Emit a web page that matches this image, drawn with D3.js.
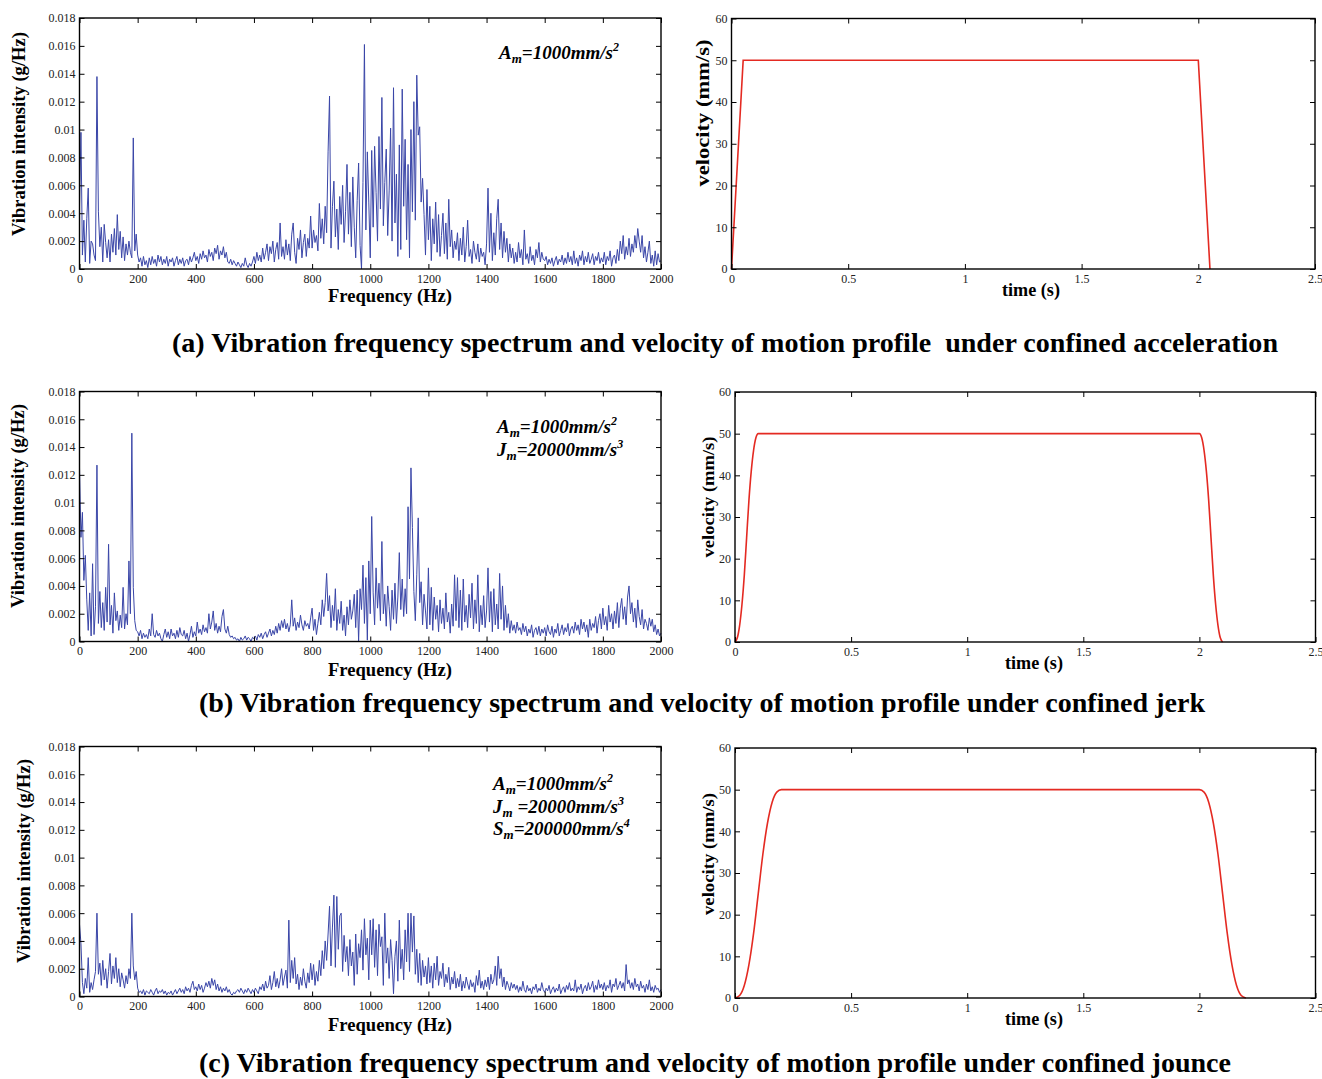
<!doctype html>
<html>
<head>
<meta charset="utf-8">
<title>Vibration spectrum and velocity of motion profiles</title>
<script src="https://d3js.org/d3.v7.min.js"></script>
<style>
  body { margin: 0; background: #fff; }
  svg { display: block; font-family: "Liberation Serif", "Times New Roman", Times, serif; }
  .tick text { font-family: "Liberation Serif", "Times New Roman", Times, serif; font-size: 12px; fill: #222; }
  .tick line { stroke: #000; }
  .frame { fill: none; stroke: #000; stroke-width: 1.4; }
  .axis-title { font-weight: bold; font-size: 18px; }
  .caption { font-weight: bold; font-size: 28px; white-space: pre; }
  .note { font-weight: bold; font-style: italic; font-size: 19px; }
</style>
</head>
<body>
<svg id="fig" width="1322" height="1079"></svg>
<script>
// spectra: one value every 5 Hz from 0 to 2000 Hz, in units of 0.001 g/Hz
var freqStep = 5;

var spectrumA = [
  4.5, 9.8, 1.0, 3.5, 0.5, 3.6, 5.8, 0.4, 2.0, 1.8, 1.0, 0.6, 13.8, 4.1, 1.6, 3.0, 0.5, 3.2, 1.9, 0.8,
  2.1, 0.5, 2.5, 1.2, 2.9, 1.0, 3.9, 1.4, 2.7, 0.8, 2.3, 0.6, 1.8, 1.0, 2.0, 1.2, 0.8, 9.4, 1.3, 2.5,
  1.0, 0.5, 0.8, 0.2, 0.9, 0.3, 0.6, 0.1, 0.8, 0.3, 0.9, 0.4, 0.7, 0.2, 1.0, 0.5, 0.9, 0.3, 0.7, 0.4,
  0.9, 0.2, 0.7, 0.5, 0.8, 0.2, 0.6, 0.9, 0.3, 0.7, 0.4, 0.8, 0.2, 0.6, 0.7, 0.3, 0.9, 0.5, 0.8, 1.2,
  0.6, 0.9, 0.4, 1.1, 0.7, 1.3, 0.8, 1.0, 0.5, 1.4, 0.9, 1.2, 0.6, 1.5, 1.1, 1.7, 0.7, 1.3, 1.0, 1.6,
  0.8, 1.2, 0.5, 0.4, 0.7, 0.3, 0.6, 0.4, 0.2, 0.5, 0.3, 0.1, 0.4, 0.2, 0.8, 0.3, 0.1, 0.4, 0.2, 0.5,
  0.9, 0.4, 1.2, 0.6, 1.0, 0.5, 1.5, 0.7, 1.2, 1.8, 0.6, 1.6, 1.1, 2.0, 0.5, 1.4, 1.9, 0.7, 3.3, 0.9,
  1.6, 0.7, 2.1, 1.0, 1.8, 0.6, 2.5, 3.3, 1.2, 0.4, 2.2, 1.4, 2.8, 0.8, 1.9, 2.5, 0.9, 2.2, 1.5, 3.8,
  1.5, 2.8, 1.9, 2.4, 1.3, 4.7, 2.2, 3.6, 1.8, 4.5, 2.6, 8.4, 12.4, 1.5, 4.5, 6.3, 2.3, 4.3, 1.4, 5.2,
  3.2, 6.0, 1.9, 4.1, 7.5, 2.5, 5.5, 1.6, 6.6, 3.0, 0.8, 4.9, 7.6, 1.7, 0.0, 6.2, 16.1, 2.8, 8.4, 4.8,
  0.8, 8.5, 3.0, 8.8, 5.5, 2.0, 9.5, 4.3, 12.3, 3.1, 6.2, 8.6, 2.4, 5.6, 10.1, 2.0, 13.0, 3.3, 6.8, 0.9,
  8.9, 1.4, 12.9, 4.5, 9.3, 2.1, 7.5, 0.8, 10.0, 4.1, 12.0, 3.5, 13.9, 9.6, 10.2, 4.8, 6.5, 3.9, 1.0, 5.7,
  2.1, 4.5, 0.6, 3.6, 1.8, 4.8, 1.2, 3.9, 0.9, 2.4, 4.0, 1.1, 3.3, 0.7, 5.0, 1.6, 2.8, 0.8, 2.0, 1.4,
  2.6, 0.6, 2.2, 1.0, 3.0, 0.5, 1.6, 3.5, 0.9, 1.4, 0.4, 2.0, 1.2, 0.7, 1.8, 0.5, 1.5, 0.9, 1.2, 0.3,
  1.8, 5.8, 1.2, 4.0, 0.6, 2.6, 1.0, 3.6, 5.0, 1.4, 3.3, 0.8, 2.7, 1.2, 2.2, 0.5, 1.8, 0.8, 1.5, 0.4,
  1.2, 0.5, 1.9, 0.8, 1.4, 0.3, 2.8, 0.7, 1.1, 0.4, 1.6, 0.6, 1.0, 0.3, 1.4, 0.8, 1.9, 0.5, 1.2, 0.7,
  0.6, 0.9, 0.3, 0.7, 0.4, 0.8, 0.2, 0.6, 0.9, 0.3, 0.7, 0.5, 1.0, 0.3, 0.8, 0.4, 1.2, 0.5, 0.9, 0.3,
  1.3, 0.4, 0.8, 0.2, 1.0, 0.6, 1.3, 0.3, 0.9, 0.5, 1.2, 0.4, 0.7, 1.1, 0.3, 0.9, 0.6, 1.2, 0.4, 0.8,
  0.5, 1.2, 0.3, 0.9, 0.6, 1.3, 0.2, 0.8, 1.0, 0.4, 1.4, 0.6, 2.0, 1.1, 2.4, 0.7, 1.6, 1.0, 2.2, 0.9,
  1.8, 1.2, 2.4, 1.5, 2.9, 2.0, 1.2, 2.4, 0.8, 1.6, 0.5, 1.2, 2.0, 0.4, 1.0, 0.2, 1.3, 0.3, 1.1, 0.5,
  0.6
];

var spectrumB = [
  12.5, 7.5, 9.3, 4.4, 6.2, 3.0, 0.8, 3.5, 0.4, 5.6, 0.5, 2.5, 12.7, 1.3, 3.6, 1.0, 2.8, 0.8, 3.9, 1.4,
  7.0, 1.2, 2.6, 0.6, 3.5, 1.5, 2.2, 0.8, 1.9, 1.0, 3.9, 0.9, 2.0, 1.2, 5.8, 2.0, 15.0, 3.9, 1.5, 0.8,
  0.7, 0.4, 0.8, 0.2, 0.6, 0.3, 0.5, 0.2, 0.9, 0.4, 2.0, 0.5, 0.3, 0.8, 0.4, 0.6, 0.2, 0.0, 0.5, 0.9,
  0.3, 0.7, 0.2, 0.9, 0.4, 0.6, 0.2, 0.8, 0.3, 1.0, 0.5, 0.4, 0.8, 0.2, 0.6, 0.0, 0.5, 1.1, 0.3, 0.7,
  0.4, 1.4, 0.6, 0.9, 0.5, 1.2, 0.7, 1.0, 0.6, 2.0, 0.9, 1.4, 2.2, 0.8, 1.3, 0.6, 1.1, 0.7, 1.8, 2.3,
  0.9, 0.6, 1.1, 0.5, 0.3, 0.4, 0.2, 0.3, 0.1, 0.2, 0.0, 0.3, 0.1, 0.2, 0.4, 0.1, 0.3, 0.2, 0.0, 0.3,
  0.2, 0.4, 0.1, 0.5, 0.3, 0.6, 0.2, 0.5, 0.7, 0.3, 0.6, 0.9, 0.4, 0.8, 0.5, 1.1, 0.6, 1.3, 0.8, 1.5,
  1.0, 1.6, 0.9, 1.3, 0.7, 1.2, 3.0, 1.1, 1.7, 0.8, 1.4, 1.0, 1.9, 1.2, 0.8, 1.5, 1.1, 1.3, 0.9, 1.7,
  2.4, 0.8, 1.6, 0.5, 1.3, 2.1, 1.2, 3.0, 1.8, 2.8, 4.9, 2.2, 3.3, 1.0, 2.6, 1.5, 3.8, 0.8, 2.3, 1.3,
  2.9, 0.8, 1.9, 0.4, 2.5, 1.2, 3.0, 1.6, 2.2, 3.4, 1.0, 3.7, 0.0, 3.8, 2.3, 5.5, 1.3, 4.6, 0.1, 5.8,
  2.0, 9.0, 3.5, 1.2, 5.3, 2.4, 4.2, 1.5, 7.2, 2.0, 3.4, 1.1, 4.0, 2.5, 0.8, 3.7, 1.6, 4.2, 1.3, 3.2,
  6.4, 2.3, 4.5, 1.8, 3.8, 2.0, 9.7, 4.5, 12.5, 8.2, 3.6, 1.5, 4.8, 8.9, 2.8, 4.3, 1.2, 3.4, 2.2, 0.9,
  5.3, 1.2, 3.9, 0.8, 3.2, 1.6, 2.6, 0.7, 3.0, 1.3, 2.4, 0.9, 3.5, 1.4, 2.1, 0.6, 2.7, 1.1, 4.8, 1.5,
  4.6, 1.0, 3.7, 0.8, 4.5, 1.4, 2.6, 1.0, 3.4, 1.7, 4.2, 0.9, 3.0, 1.3, 4.8, 0.7, 2.6, 1.2, 3.3, 1.0,
  2.2, 5.3, 1.4, 3.6, 0.7, 3.8, 1.2, 2.7, 0.9, 4.9, 1.6, 4.0, 0.8, 2.6, 1.0, 2.0, 0.6, 1.5, 0.8, 1.2,
  0.6, 1.4, 0.8, 1.0, 0.5, 1.3, 0.7, 1.1, 0.4, 0.9, 0.6, 1.2, 0.3, 0.8, 1.0, 0.5, 1.1, 0.4, 0.9, 0.6,
  1.0, 0.4, 1.2, 0.7, 0.5, 1.1, 0.3, 0.9, 0.6, 1.3, 0.4, 0.8, 1.2, 0.5, 1.0, 0.7, 1.3, 0.4, 0.9, 1.1,
  0.6, 1.4, 0.8, 1.2, 0.5, 1.6, 0.9, 1.4, 0.7, 1.2, 0.3, 1.6, 0.8, 1.3, 1.0, 1.8, 0.6, 1.5, 2.0, 0.9,
  2.4, 1.2, 1.8, 0.8, 2.6, 1.4, 2.0, 0.9, 2.2, 1.3, 2.8, 1.0, 2.4, 3.1, 1.6, 2.5, 1.2, 3.2, 4.0, 2.0,
  2.8, 1.4, 2.4, 1.0, 3.0, 1.8, 1.2, 2.3, 0.9, 1.6, 1.3, 0.8, 1.7, 1.1, 1.6, 0.7, 1.2, 0.5, 0.9, 0.4,
  0.6
];

var spectrumC = [
  5.2, 3.8, 1.0, 0.2, 1.3, 0.6, 2.8, 0.3, 1.0, 0.5, 1.2, 1.8, 6.0, 1.6, 2.4, 0.8, 2.6, 1.2, 2.0, 0.6,
  1.8, 3.1, 0.9, 2.2, 1.3, 2.8, 1.0, 2.0, 0.7, 1.7, 1.2, 0.6, 1.5, 0.9, 2.0, 1.3, 6.0, 2.2, 1.2, 1.8,
  0.6, 0.3, 0.4, 0.2, 0.5, 0.1, 0.4, 0.3, 0.2, 0.5, 0.3, 0.1, 0.4, 0.6, 0.2, 0.4, 0.3, 0.5, 0.2, 0.4,
  0.1, 0.3, 0.2, 0.4, 0.1, 0.3, 0.5, 0.2, 0.4, 0.6, 0.3, 0.5, 0.2, 0.7, 0.4, 0.6, 0.3, 0.8, 1.1, 0.5,
  0.7, 0.4, 0.9, 0.5, 0.8, 0.3, 0.6, 1.0, 0.7, 1.1, 0.6, 1.3, 0.8, 1.2, 0.5, 0.9, 0.4, 0.7, 0.3, 0.6,
  0.4, 0.7, 0.3, 0.5, 0.2, 0.1, 0.3, 0.2, 0.4, 0.5, 0.3, 0.6, 0.4, 0.2, 0.5, 0.3, 0.6, 0.4, 0.2, 0.5,
  0.3, 0.6, 0.4, 0.2, 0.7, 0.5, 0.9, 0.4, 1.1, 0.6, 0.8, 1.5, 0.5, 1.0, 1.8, 0.7, 1.3, 0.6, 1.2, 2.0,
  0.8, 1.4, 1.9, 0.6, 5.5, 1.0, 2.6, 1.3, 2.8, 0.9, 1.6, 0.5, 1.4, 0.8, 2.0, 1.1, 0.6, 1.7, 1.0, 2.4,
  1.2, 2.3, 0.8, 1.8, 1.1, 2.6, 1.5, 3.3, 2.0, 4.0, 2.6, 4.5, 6.5, 2.2, 5.0, 7.3, 2.1, 7.2, 3.4, 5.8,
  6.0, 1.8, 4.4, 2.5, 3.6, 1.5, 4.1, 2.2, 3.2, 0.8, 4.5, 1.6, 3.8, 2.8, 4.8, 1.9, 5.6, 3.0, 4.2, 1.2,
  5.5, 3.0, 5.6, 2.1, 4.8, 1.5, 5.2, 3.6, 4.3, 0.8, 6.0, 2.4, 3.5, 1.3, 4.1, 2.6, 0.2, 2.9, 4.0, 1.1,
  5.5, 2.0, 3.4, 1.2, 4.8, 2.5, 6.0, 1.8, 6.0, 3.2, 5.8, 1.6, 3.4, 1.0, 3.1, 0.8, 2.6, 1.4, 2.2, 0.9,
  2.8, 1.0, 2.2, 0.6, 2.4, 1.2, 2.9, 0.8, 1.8, 1.3, 2.4, 0.7, 1.6, 1.0, 2.1, 0.5, 1.4, 0.9, 1.8, 0.6,
  1.3, 0.7, 1.6, 0.4, 1.1, 0.6, 1.4, 0.9, 0.5, 1.2, 0.7, 1.0, 0.3, 1.5, 0.8, 1.9, 0.6, 1.1, 0.5, 1.2,
  0.7, 1.4, 0.5, 1.6, 0.9, 1.2, 2.2, 0.8, 2.9, 1.3, 2.0, 0.7, 1.4, 0.5, 1.1, 0.8, 0.4, 1.0, 0.6, 0.9,
  0.5, 0.8, 0.3, 0.7, 0.4, 1.1, 0.5, 0.3, 0.8, 0.4, 0.6, 0.2, 0.7, 0.5, 0.9, 0.3, 0.6, 0.4, 1.0, 0.5,
  0.3, 0.6, 0.4, 0.8, 0.2, 0.5, 0.7, 0.3, 0.6, 0.4, 0.9, 0.2, 0.5, 0.7, 0.3, 0.8, 0.5, 1.0, 0.4, 0.6,
  0.4, 1.2, 0.3, 0.7, 0.5, 0.9, 0.2, 0.6, 0.8, 0.4, 1.0, 0.5, 0.7, 1.1, 0.3, 0.8, 0.5, 1.2, 0.6, 0.9,
  0.5, 1.0, 0.4, 0.8, 0.6, 1.2, 0.3, 0.9, 0.7, 1.3, 0.5, 0.8, 1.1, 0.6, 1.0, 0.4, 2.3, 0.9, 1.2, 0.6,
  1.0, 0.5, 1.3, 0.7, 0.9, 0.4, 1.1, 0.6, 0.8, 0.3, 0.9, 0.5, 1.2, 0.4, 0.7, 0.3, 0.8, 0.5, 0.6, 0.3,
  0.5
];

// velocity profiles (time in s, velocity in mm/s)
var timeA = [0, 0.05, 2.0, 2.05];
var velA  = [0, 50, 50, 0];

var timeB = [0, 0.01, 0.02, 0.03, 0.04, 0.05, 0.06, 0.07, 0.08, 0.09, 0.1,
             2.0, 2.01, 2.02, 2.03, 2.04, 2.05, 2.06, 2.07, 2.08, 2.09, 2.1];
var velB  = [0, 1, 4, 9, 16, 25, 34, 41, 46, 49, 50,
             50, 49, 46, 41, 34, 25, 16, 9, 4, 1, 0];

var timeC = [0, 0.02, 0.04, 0.06, 0.08, 0.1, 0.12, 0.14, 0.16, 0.18, 0.2,
             2.0, 2.02, 2.04, 2.06, 2.08, 2.1, 2.12, 2.14, 2.16, 2.18, 2.2];
var velC  = [0, 0.6, 3, 8, 15.5, 25, 34.5, 42, 47, 49.4, 50,
             50, 49.4, 47, 42, 34.5, 25, 15.5, 8, 3, 0.6, 0];

var freqTicks = [0, 200, 400, 600, 800, 1000, 1200, 1400, 1600, 1800, 2000];
var intensityTicks = [0, 2, 4, 6, 8, 10, 12, 14, 16, 18];
var timeTicks = [0, 0.5, 1, 1.5, 2, 2.5];
var velTicks = [0, 10, 20, 30, 40, 50, 60];

var captions = [
  "(a) Vibration frequency spectrum and velocity of motion profile  under confined acceleration",
  "(b) Vibration frequency spectrum and velocity of motion profile under confined jerk",
  "(c) Vibration frequency spectrum and velocity of motion profile under confined jounce"
];

// each note line: [symbol, subscript, value, power]
var notesA = [["A", "m", "=1000mm/s", "2"]];
var notesB = [["A", "m", "=1000mm/s", "2"], ["J", "m", "=20000mm/s", "3"]];
var notesC = [["A", "m", "=1000mm/s", "2"], ["J", "m", " =20000mm/s", "3"], ["S", "m", "=200000mm/s", "4"]];

var svg = d3.select("#fig");

var rows = [
  {spec: spectrumA, t: timeA, v: velA, smooth: false, notes: notesA, caption: captions[0],
   left: {x: 79.5, y: 18, w: 581.5, h: 251}, right: {x: 731.5, y: 18.5, w: 583.5, h: 250.5},
   freqTitle: [390, 302], timeTitle: [1031, 296], yTitle: [19, 134], vTitle: [702, 113], vLen: 147, vSize: 19,
   note: [499, 59, 23], cap: [172, 352, 1106]},
  {spec: spectrumB, t: timeB, v: velB, smooth: true, notes: notesB, caption: captions[1],
   left: {x: 79.5, y: 391.5, w: 581.5, h: 250}, right: {x: 735, y: 392, w: 580.5, h: 250},
   freqTitle: [390, 676], timeTitle: [1034, 669], yTitle: [18, 506], vTitle: [708, 497], vLen: 121, vSize: 17,
   note: [497, 433, 23], cap: [199, 712, 1006]},
  {spec: spectrumC, t: timeC, v: velC, smooth: true, notes: notesC, caption: captions[2],
   left: {x: 79.5, y: 746.5, w: 581.5, h: 250}, right: {x: 735, y: 748, w: 580.5, h: 250},
   freqTitle: [390, 1031], timeTitle: [1034, 1025], yTitle: [24, 861], vTitle: [708, 854], vLen: 122, vSize: 17,
   note: [493, 790, 22.5], cap: [199, 1072, 1032]}
];

function boxAxes(g, x, y, w, h, xTicks, yTicks, xFmt, yFmt) {
  g.append("g").attr("transform", `translate(0,${h})`)
    .call(d3.axisBottom(x).tickValues(xTicks).tickFormat(xFmt).tickSizeInner(-5).tickSizeOuter(0).tickPadding(5));
  g.append("g")
    .call(d3.axisTop(x).tickValues(xTicks).tickFormat("").tickSizeInner(-5).tickSizeOuter(0));
  g.append("g")
    .call(d3.axisLeft(y).tickValues(yTicks).tickFormat(yFmt).tickSizeInner(-5).tickSizeOuter(0).tickPadding(4));
  g.append("g").attr("transform", `translate(${w},0)`)
    .call(d3.axisRight(y).tickValues(yTicks).tickFormat("").tickSizeInner(-5).tickSizeOuter(0));
  g.selectAll(".domain").remove();
  g.append("rect").attr("class", "frame").attr("width", w).attr("height", h);
}

function drawSpectrum(row) {
  var b = row.left;
  var g = svg.append("g").attr("transform", `translate(${b.x},${b.y})`);
  var x = d3.scaleLinear().domain([0, 2000]).range([0, b.w]);
  var y = d3.scaleLinear().domain([0, 18]).range([b.h, 0]);

  var line = d3.line()
    .x((d, i) => x(i * freqStep))
    .y(d => y(d));
  g.append("path")
    .datum(row.spec)
    .attr("d", line)
    .attr("fill", "none")
    .attr("stroke", "#3a46a8")
    .attr("stroke-width", 1);

  boxAxes(g, x, y, b.w, b.h, freqTicks, intensityTicks,
    d => String(d), d => d === 0 ? "0" : String(d / 1000));

  // parameter notes
  row.notes.forEach(function(n, i) {
    var t = svg.append("text").attr("class", "note")
      .attr("x", row.note[0]).attr("y", row.note[1] + i * row.note[2]);
    t.append("tspan").text(n[0]);
    t.append("tspan").attr("font-size", 13).attr("dy", 4).text(n[1]);
    t.append("tspan").attr("dy", -4).text(n[2]);
    t.append("tspan").attr("font-size", 12).attr("dy", -8).text(n[3]);
  });

  svg.append("text").attr("class", "axis-title")
    .attr("x", row.freqTitle[0]).attr("y", row.freqTitle[1])
    .attr("text-anchor", "middle")
    .attr("textLength", 124).attr("lengthAdjust", "spacingAndGlyphs")
    .text("Frequency (Hz)");
  svg.append("text").attr("class", "axis-title")
    .attr("transform", `translate(${row.yTitle[0]},${row.yTitle[1]}) rotate(-90)`)
    .attr("text-anchor", "middle").attr("dy", "0.35em")
    .attr("textLength", 204).attr("lengthAdjust", "spacingAndGlyphs")
    .text("Vibration intensity (g/Hz)");
}

function drawVelocity(row) {
  var b = row.right;
  var g = svg.append("g").attr("transform", `translate(${b.x},${b.y})`);
  var x = d3.scaleLinear().domain([0, 2.5]).range([0, b.w]);
  var y = d3.scaleLinear().domain([0, 60]).range([b.h, 0]);

  var pts = row.t.map((t, i) => [t, row.v[i]]);
  var line = d3.line()
    .x(d => x(d[0]))
    .y(d => y(d[1]))
    .curve(row.smooth ? d3.curveMonotoneX : d3.curveLinear);
  g.append("path")
    .datum(pts)
    .attr("d", line)
    .attr("fill", "none")
    .attr("stroke", "#e42a22")
    .attr("stroke-width", 1.6);

  boxAxes(g, x, y, b.w, b.h, timeTicks, velTicks, d => String(d), d => String(d));

  svg.append("text").attr("class", "axis-title")
    .attr("x", row.timeTitle[0]).attr("y", row.timeTitle[1])
    .attr("text-anchor", "middle")
    .attr("textLength", 58).attr("lengthAdjust", "spacingAndGlyphs")
    .text("time (s)");
  svg.append("text").attr("class", "axis-title")
    .attr("transform", `translate(${row.vTitle[0]},${row.vTitle[1]}) rotate(-90)`)
    .attr("text-anchor", "middle").attr("dy", "0.35em")
    .style("font-size", row.vSize + "px")
    .attr("textLength", row.vLen).attr("lengthAdjust", "spacingAndGlyphs")
    .text("velocity (mm/s)");
}

rows.forEach(function(row) {
  drawSpectrum(row);
  drawVelocity(row);
  svg.append("text").attr("class", "caption")
    .attr("x", row.cap[0]).attr("y", row.cap[1])
    .attr("textLength", row.cap[2]).attr("lengthAdjust", "spacingAndGlyphs")
    .text(row.caption);
});
</script>
</body>
</html>
